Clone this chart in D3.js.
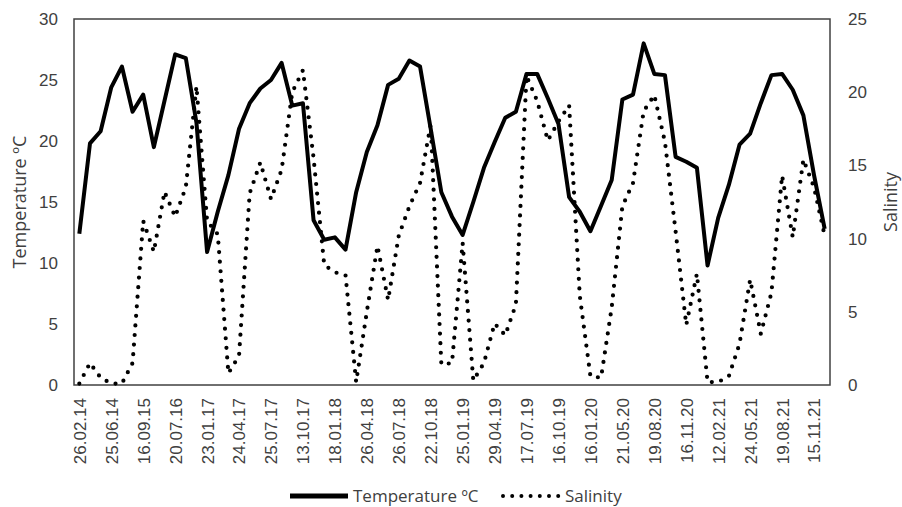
<!DOCTYPE html>
<html>
<head>
<meta charset="utf-8">
<script src="https://cdn.jsdelivr.net/npm/d3@7"></script>
<style>
  body { margin: 0; background: #fff; }
  svg { display: block; font-family: 'Open Sans', sans-serif; }
</style>
</head>
<body>
<svg id="chart" width="902" height="507"></svg>
<script>
// sampling dates shown on the axis (every third sample is labelled)
const dateLabels = [
  '26.02.14', '25.06.14', '16.09.15', '20.07.16', '23.01.17', '24.04.17',
  '25.07.17', '13.10.17', '18.01.18', '26.04.18', '26.07.18', '22.10.18',
  '25.01.19', '29.04.19', '17.07.19', '16.10.19', '16.01.20', '21.05.20',
  '19.08.20', '16.11.20', '12.02.21', '24.05.21', '19.08.21', '15.11.21',
];
const labelEvery = 3;

const temperature = [
  12.4, 19.8, 20.8, 24.4, 26.1, 22.4, 23.8, 19.5, 23.3, 27.1,
  26.8, 21.5, 10.9, 14.2, 17.2, 21.0, 23.1, 24.3, 25.0, 26.4,
  22.9, 23.1, 13.5, 11.9, 12.1, 11.1, 15.8, 19.1, 21.3, 24.6,
  25.1, 26.6, 26.1, 21.0, 15.8, 13.8, 12.3, 15.0, 17.8, 19.9,
  21.9, 22.4, 25.5, 25.5, 23.5, 21.4, 15.4, 14.2, 12.6, 14.7,
  16.8, 23.4, 23.8, 28.0, 25.5, 25.4, 18.7, 18.3, 17.8, 9.8,
  13.7, 16.4, 19.7, 20.6, 23.1, 25.4, 25.5, 24.2, 22.1, 17.2,
  12.8,
];

const salinity = [
  0.1, 1.5, 0.5, 0.1, 0.1, 1.5, 11.2, 9.1, 13.2, 11.5,
  13.5, 20.4, 11.2, 10.3, 0.8, 2.0, 13.1, 15.2, 12.7, 14.7,
  20.0, 21.5, 15.5, 8.2, 7.7, 7.5, 0.2, 5.0, 9.5, 5.8,
  10.2, 12.2, 13.8, 17.8, 1.4, 1.5, 9.7, 0.3, 1.5, 4.2,
  3.4, 5.5, 21.1, 19.4, 16.7, 18.0, 19.1, 6.1, 0.6, 0.5,
  5.3, 12.2, 13.8, 18.7, 19.8, 16.6, 10.5, 4.1, 7.6, 0.2,
  0.2, 0.6, 2.8, 7.2, 3.5, 6.3, 14.3, 10.1, 15.4, 13.5,
  10.2,
];

const tempTicks = [0, 5, 10, 15, 20, 25, 30];
const salTicks = [0, 5, 10, 15, 20, 25];

const margin = { top: 19, right: 72, bottom: 122, left: 74 };
const width = 902;
const height = 507;
const textColor = '#404040';

const svg = d3.select('#chart');

const x = d3.scalePoint()
  .domain(d3.range(temperature.length))
  .range([margin.left, width - margin.right])
  .padding(0.5);

const yTemp = d3.scaleLinear()
  .domain([0, 30])
  .range([height - margin.bottom, margin.top]);

const ySal = d3.scaleLinear()
  .domain([0, 25])
  .range([height - margin.bottom, margin.top]);

function styleAxis(g) {
  g.select('.domain').remove();
  g.selectAll('text')
    .attr('fill', textColor)
    .style('font-size', '17px');
}

// plot frame
svg.append('rect')
  .attr('x', margin.left)
  .attr('y', margin.top)
  .attr('width', width - margin.left - margin.right)
  .attr('height', height - margin.top - margin.bottom)
  .attr('fill', 'none')
  .attr('stroke', '#404040')
  .attr('stroke-width', 1.5);

svg.append('g')
  .attr('transform', `translate(${margin.left},0)`)
  .call(d3.axisLeft(yTemp).tickValues(tempTicks).tickSize(0).tickPadding(16))
  .call(styleAxis);

svg.append('g')
  .attr('transform', `translate(${width - margin.right},0)`)
  .call(d3.axisRight(ySal).tickValues(salTicks).tickSize(0).tickPadding(18))
  .call(styleAxis);

const xAxis = svg.append('g')
  .attr('transform', `translate(0,${height - margin.bottom})`)
  .call(d3.axisBottom(x)
    .tickValues(d3.range(0, temperature.length, labelEvery).slice(0, dateLabels.length))
    .tickFormat((d) => dateLabels[d / labelEvery])
    .tickSize(0))
  .call(styleAxis);

xAxis.selectAll('text')
  .attr('text-anchor', 'end')
  .attr('transform', 'translate(0,13) rotate(-90)')
  .attr('x', 0)
  .attr('y', 0)
  .attr('dy', '0.35em');

// axis titles
svg.append('text')
  .attr('transform', `translate(20,${(margin.top + height - margin.bottom) / 2}) rotate(-90)`)
  .attr('text-anchor', 'middle')
  .attr('dy', '0.35em')
  .attr('fill', textColor)
  .style('font-size', '18px')
  .text('Temperature ºC');

svg.append('text')
  .attr('transform', `translate(891,${(margin.top + height - margin.bottom) / 2}) rotate(-90)`)
  .attr('text-anchor', 'middle')
  .attr('dy', '0.35em')
  .attr('fill', textColor)
  .style('font-size', '18px')
  .text('Salinity');

// series
const tempLine = d3.line()
  .x((d, i) => x(i))
  .y((d) => yTemp(d));

const salLine = d3.line()
  .x((d, i) => x(i))
  .y((d) => ySal(d));

svg.append('path')
  .datum(salinity)
  .attr('d', salLine)
  .attr('fill', 'none')
  .attr('stroke', '#000')
  .attr('stroke-width', 4.2)
  .attr('stroke-linecap', 'round')
  .attr('stroke-dasharray', '0 9.6');

svg.append('path')
  .datum(temperature)
  .attr('d', tempLine)
  .attr('fill', 'none')
  .attr('stroke', '#000')
  .attr('stroke-width', 4)
  .attr('stroke-linejoin', 'round');

// legend
const legend = svg.append('g')
  .attr('transform', 'translate(290,496)');

legend.append('line')
  .attr('x1', 0)
  .attr('x2', 58)
  .attr('stroke', '#000')
  .attr('stroke-width', 5);

legend.append('text')
  .attr('x', 63)
  .attr('dy', '0.35em')
  .attr('fill', textColor)
  .style('font-size', '17px')
  .text('Temperature ºC');

legend.append('line')
  .attr('x1', 213)
  .attr('x2', 269)
  .attr('stroke', '#000')
  .attr('stroke-width', 4)
  .attr('stroke-linecap', 'round')
  .attr('stroke-dasharray', '0 9.2');

legend.append('text')
  .attr('x', 275)
  .attr('dy', '0.35em')
  .attr('fill', textColor)
  .style('font-size', '17px')
  .text('Salinity');
</script>
</body>
</html>
